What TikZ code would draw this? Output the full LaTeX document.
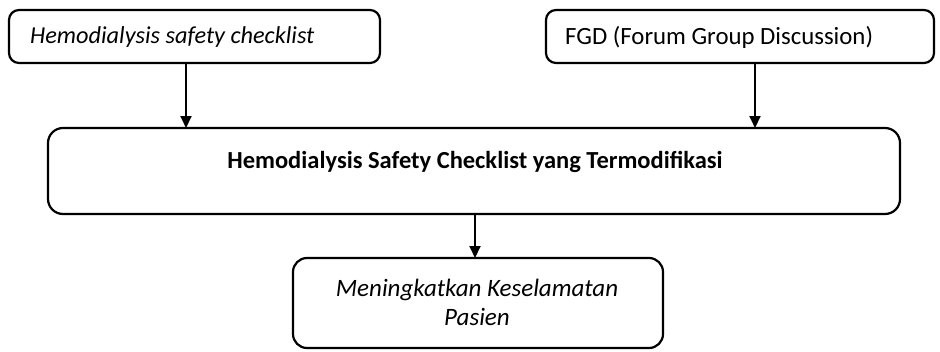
\documentclass[tikz,border=0pt]{standalone}
\usepackage{fontspec}
\setmainfont{Carlito}
\usetikzlibrary{arrows.meta}
\begin{document}
\begin{tikzpicture}[x=1pt,y=-1pt,
  box/.style={draw=black,line width=2.2pt,rounded corners=10pt,fill=white},
  arr/.style={line width=2pt,-{Triangle[length=12pt,width=11pt]}},
  txt/.style={inner sep=0pt,font=\fontsize{24}{30}\selectfont}]
\useasboundingbox (0,0) rectangle (940,351);
\draw[box] (9,10) rectangle (380,63);
\node[txt,anchor=west,font=\fontsize{24.3}{30}\selectfont] (t1) at (30,37) {\textit{Hemodialysis safety checklist}};
\coordinate (b1) at (186,63);
\draw[box] (546,10) rectangle (934,63);
\node[txt,anchor=west,font=\fontsize{24.8}{30}\selectfont] (t2) at (565,37) {FGD (Forum Group Discussion)};
\coordinate (b2) at (755,63);
\draw[box,rounded corners=15pt] (48,128) rectangle (900,214);
\node[txt,font=\fontsize{24.5}{30}\selectfont\bfseries] (t3) at (475,162) {Hemodialysis Safety Checklist yang Termodifikasi};
\coordinate (m1) at (186,128);
\coordinate (m2) at (755,128);
\coordinate (m3) at (475,214);
\draw[box,rounded corners=14pt] (293,258) rectangle (663,348);
\node[txt,align=center,font=\fontsize{25}{29}\selectfont] (t4) at (477,302) {\textit{Meningkatkan Keselamatan}\\\textit{Pasien}};
\coordinate (p1) at (475,258);
\draw[arr] (b1) -- (m1);
\draw[arr] (b2) -- (m2);
\draw[arr] (m3) -- (p1);
\end{tikzpicture}
\end{document}
